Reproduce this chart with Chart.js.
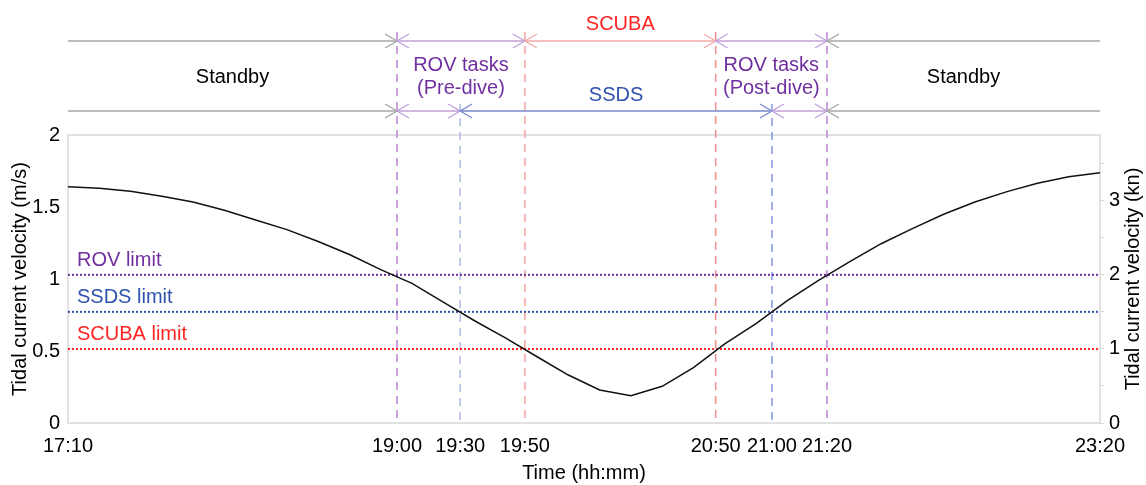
<!DOCTYPE html>
<html>
<head>
<meta charset="utf-8">
<script src="https://cdn.jsdelivr.net/npm/chart.js@4"></script>
<style>
  html, body { margin: 0; padding: 0; background: #fff; }
  #wrap { width: 1146px; height: 485px; }
</style>
</head>
<body>
<div id="wrap"><canvas id="chart"></canvas></div>
<script>
// time axis: labels and where they sit on the sample-step axis
const tickLabels = ['17:10', '19:00', '19:30', '19:50', '20:50', '21:00', '21:20', '23:20'];
const tickPos = [0, 10.52, 12.54, 14.61, 20.71, 22.51, 24.27, 33];

// tidal current velocity (m/s), one value per sample step
const velocity = [1.64, 1.63, 1.61, 1.575, 1.535, 1.477, 1.41, 1.343, 1.26, 1.17,
  1.065, 0.97, 0.84, 0.71, 0.59, 0.46, 0.333, 0.229, 0.19, 0.255,
  0.385, 0.55, 0.69, 0.85, 0.99, 1.12, 1.245, 1.35, 1.45, 1.535,
  1.605, 1.665, 1.71, 1.738];

// operating limits (m/s)
const limitNames = ['ROV limit', 'SSDS limit', 'SCUBA limit'];
const limitVals = [1.029, 0.772, 0.514];

const KN_PER_MS = 1.94384;
const FONT = '"Liberation Sans", Arial, sans-serif';

const PURPLE = '#7030A0', BLUE = '#2F52AE', RED = '#FF2424';
const limitColors = [PURPLE, BLUE, RED];

// timeline rows: segments between tick indices
const topRow = [
  { from: 0, to: 1, color: '#a6a6a6' },
  { from: 1, to: 3, color: '#c0a0d8' },
  { from: 3, to: 4, color: '#f6a8a8' },
  { from: 4, to: 6, color: '#c0a0d8' },
  { from: 6, to: 7, color: '#a6a6a6' }
];
const lowRow = [
  { from: 0, to: 1, color: '#a6a6a6' },
  { from: 1, to: 2, color: '#c0a0d8' },
  { from: 2, to: 5, color: '#7888c8' },
  { from: 5, to: 6, color: '#c0a0d8' },
  { from: 6, to: 7, color: '#a6a6a6' }
];
// vertical event lines at tick indices
const events = [
  { at: 1, color: 'rgba(176,112,208,0.85)', top: 32 },
  { at: 2, color: 'rgba(150,165,220,0.75)', top: 104 },
  { at: 3, color: 'rgba(240,140,140,0.8)', top: 32 },
  { at: 4, color: 'rgba(240,120,120,0.85)', top: 32 },
  { at: 5, color: 'rgba(110,130,220,0.85)', top: 104 },
  { at: 6, color: 'rgba(176,112,208,0.85)', top: 32 }
];
const labels = [
  { from: 3, to: 4, y: 24, color: RED, lines: ['SCUBA'] },
  { from: 2, to: 5, y: 95, color: BLUE, lines: ['SSDS'] },
  { from: 0, to: 1, y: 77, color: '#000', lines: ['Standby'] },
  { from: 1, to: 3, y: 65, color: PURPLE, lines: ['ROV tasks', '(Pre-dive)'] },
  { from: 4, to: 6, y: 65, color: PURPLE, lines: ['ROV tasks', '(Post-dive)'] },
  { from: 6, to: 7, y: 77, color: '#000', lines: ['Standby'] }
];

function arrowHead(ctx, x, y, dir) {
  ctx.beginPath();
  ctx.moveTo(x - dir * 12, y - 7);
  ctx.lineTo(x, y);
  ctx.lineTo(x - dir * 12, y + 7);
  ctx.stroke();
}

function drawRow(ctx, xs, row, y, last) {
  row.forEach(seg => {
    const x1 = xs.getPixelForValue(tickPos[seg.from]);
    const x2 = xs.getPixelForValue(tickPos[seg.to]);
    ctx.strokeStyle = seg.color;
    ctx.lineWidth = 1.3;
    ctx.beginPath();
    ctx.moveTo(x1, y);
    ctx.lineTo(x2, y);
    ctx.stroke();
    if (seg.from > 0) arrowHead(ctx, x1, y, -1);
    if (seg.to < last) arrowHead(ctx, x2, y, 1);
  });
}

const overlay = {
  id: 'overlay',
  beforeDatasetsDraw(chart) {
    const { ctx, chartArea: a } = chart;
    const xs = chart.scales.x;
    ctx.save();
    ctx.strokeStyle = '#d9d9d9';
    ctx.lineWidth = 1.5;
    ctx.strokeRect(a.left, a.top, a.right - a.left, a.bottom - a.top);
    ctx.lineWidth = 1.5;
    ctx.setLineDash([8, 6]);
    events.forEach(ev => {
      const x = xs.getPixelForValue(tickPos[ev.at]);
      ctx.strokeStyle = ev.color;
      ctx.beginPath();
      ctx.moveTo(x, ev.top);
      ctx.lineTo(x, a.bottom - 2);
      ctx.stroke();
    });
    ctx.restore();
  },
  afterDraw(chart) {
    const { ctx, chartArea: a } = chart;
    const xs = chart.scales.x, ys = chart.scales.y;
    ctx.save();
    const last = tickPos.length - 1;
    drawRow(ctx, xs, topRow, 41, last);
    drawRow(ctx, xs, lowRow, 111, last);

    ctx.font = '20px ' + FONT;
    ctx.textAlign = 'center';
    ctx.textBaseline = 'middle';
    labels.forEach(l => {
      const cx = (xs.getPixelForValue(tickPos[l.from]) + xs.getPixelForValue(tickPos[l.to])) / 2;
      ctx.fillStyle = l.color;
      l.lines.forEach((t, k) => ctx.fillText(t, cx, l.y + k * 23));
    });

    ctx.textAlign = 'left';
    limitNames.forEach((n, k) => {
      ctx.fillStyle = limitColors[k];
      ctx.fillText(n, a.left + 9, ys.getPixelForValue(limitVals[k]) - 14);
    });

    // right axis title, reading bottom to top
    ctx.translate(1133, (a.top + a.bottom) / 2);
    ctx.rotate(-Math.PI / 2);
    ctx.textAlign = 'center';
    ctx.fillStyle = '#000';
    ctx.fillText('Tidal current velocity (kn)', 0, 0);
    ctx.restore();
  }
};

const tickFont = { size: 20, family: FONT };

new Chart(document.getElementById('chart'), {
  type: 'line',
  data: {
    datasets: [
      {
        data: velocity.map((v, i) => ({ x: i, y: v })),
        borderColor: '#111',
        borderWidth: 1.5,
        pointRadius: 0,
        tension: 0
      },
      ...limitVals.map((v, k) => ({
        data: [{ x: tickPos[0], y: v }, { x: tickPos[tickPos.length - 1], y: v }],
        borderColor: limitColors[k],
        borderWidth: 2,
        borderDash: [2, 2],
        pointRadius: 0
      }))
    ]
  },
  options: {
    responsive: true,
    maintainAspectRatio: false,
    animation: false,
    layout: { padding: { top: 135 } },
    plugins: { legend: { display: false }, tooltip: { enabled: false } },
    scales: {
      x: {
        type: 'linear',
        min: tickPos[0],
        max: tickPos[tickPos.length - 1],
        grid: { display: false, drawTicks: false },
        border: { display: false },
        afterBuildTicks: s => { s.ticks = tickPos.map(v => ({ value: v })); },
        ticks: {
          autoSkip: false,
          maxRotation: 0,
          padding: 11,
          color: '#000',
          font: tickFont,
          callback: v => {
            const k = tickPos.indexOf(v);
            return k >= 0 ? tickLabels[k] : '';
          }
        },
        title: { display: true, text: 'Time (hh:mm)', color: '#000', font: tickFont, padding: { top: 0, bottom: 0 } },
        afterFit: s => { s.height = 62; }
      },
      y: {
        min: 0,
        max: 2,
        grid: { display: false, drawTicks: false },
        border: { display: false },
        ticks: { stepSize: 0.5, padding: 8, color: '#000', font: tickFont, callback: v => String(v) },
        title: { display: true, text: 'Tidal current velocity (m/s)', color: '#000', font: tickFont, padding: { top: 8, bottom: 0 } },
        afterFit: s => { s.width = 68; }
      },
      y2: {
        position: 'right',
        min: 0,
        max: 2 * KN_PER_MS,
        grid: { drawOnChartArea: false, tickLength: 4, color: '#d9d9d9' },
        border: { display: false },
        afterBuildTicks: s => {
          s.ticks = s.ticks.filter(t => Math.abs(t.value * 2 - Math.round(t.value * 2)) < 1e-6);
        },
        ticks: {
          stepSize: 0.5,
          padding: 5,
          color: '#000',
          font: tickFont,
          callback: v => (Number.isInteger(v) ? v : '')
        },
        afterFit: s => { s.width = 46; }
      }
    }
  },
  plugins: [overlay]
});
</script>
</body>
</html>
